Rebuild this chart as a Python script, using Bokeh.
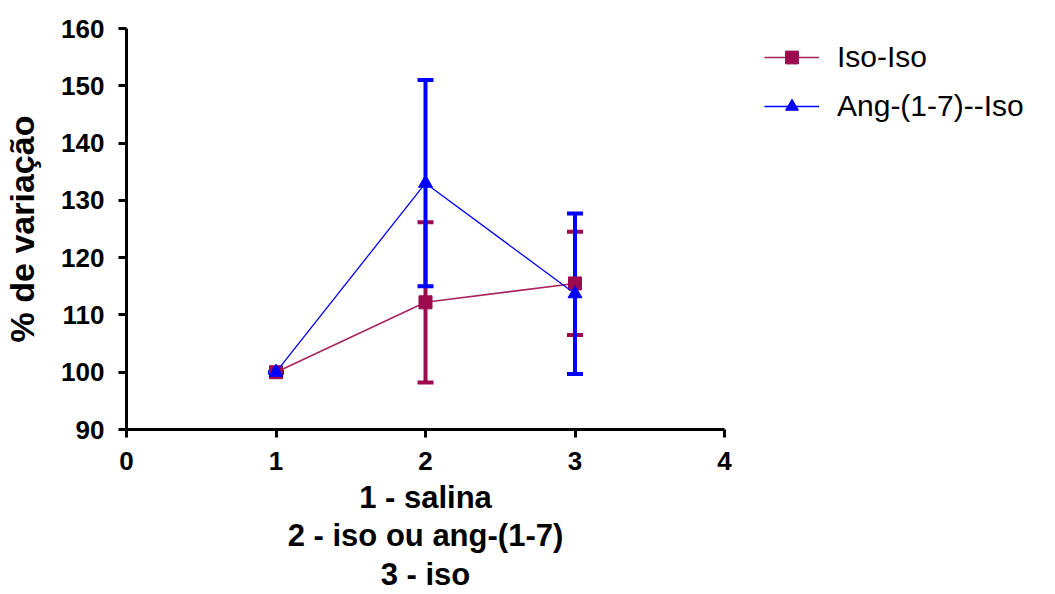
from bokeh.plotting import figure
from bokeh.layouts import row
from bokeh.models import ColumnDataSource, Whisker, TeeHead, Legend, LegendItem, Range1d, FixedTicker
from bokeh.embed import file_html
from bokeh.resources import INLINE

x = [1, 2, 3]
iso_mean = [100.0, 112.2, 115.5]
iso_err = [0.0, 14.0, 9.0]
ang_mean = [100.0, 133.0, 113.7]
ang_err = [0.0, 18.0, 14.0]
x_ticks = [0, 1, 2, 3, 4]
y_ticks = [90, 100, 110, 120, 130, 140, 150, 160]
labels = ["Iso-Iso", "Ang-(1-7)--Iso"]

C_ISO = "#9E0A4E"
C_ISO_LINE = "#A8255C"
C_ANG = "#0000FF"
FONT = "Liberation Sans"

p = figure(width=734, height=594, output_backend="svg", toolbar_location=None,
           x_range=Range1d(0, 4), y_range=Range1d(90, 160),
           min_border_left=123, min_border_top=28, min_border_right=10, min_border_bottom=165)
p.outline_line_color = None
p.grid.visible = False

iso_src = ColumnDataSource(dict(x=x, y=iso_mean,
                                lo=[m - e for m, e in zip(iso_mean, iso_err)],
                                hi=[m + e for m, e in zip(iso_mean, iso_err)]))
ang_src = ColumnDataSource(dict(x=x, y=ang_mean,
                                lo=[m - e for m, e in zip(ang_mean, ang_err)],
                                hi=[m + e for m, e in zip(ang_mean, ang_err)]))

for src, col in ((iso_src, C_ISO), (ang_src, C_ANG)):
    w = Whisker(base="x", lower="lo", upper="hi", source=src, line_color=col, line_width=4,
                upper_head=TeeHead(size=16, line_color=col, line_width=4),
                lower_head=TeeHead(size=16, line_color=col, line_width=4))
    p.add_layout(w)

ISO_LINE = dict(line_color=C_ISO_LINE, line_width=1.6)
ISO_MARK = dict(marker="square", size=13, fill_color=C_ISO, line_color=C_ISO)
ANG_LINE = dict(line_color=C_ANG, line_width=1.3)
ANG_MARK = dict(marker="triangle", size=14, fill_color=C_ANG, line_color=C_ANG)

p.line("x", "y", source=iso_src, **ISO_LINE)
p.scatter("x", "y", source=iso_src, **ISO_MARK)
p.line("x", "y", source=ang_src, **ANG_LINE)
p.scatter("x", "y", source=ang_src, **ANG_MARK)

for ax in (p.xaxis[0], p.yaxis[0]):
    ax.axis_line_width = 3
    ax.axis_line_color = "black"
    ax.major_tick_line_width = 3
    ax.major_tick_out = 8
    ax.major_tick_in = 0
    ax.minor_tick_line_color = None
    ax.major_label_text_font = FONT
    ax.major_label_text_font_style = "bold"
    ax.major_label_text_font_size = "26px"
    ax.major_label_text_color = "black"
    ax.axis_label_text_font = FONT
    ax.axis_label_text_font_style = "bold"
    ax.axis_label_text_color = "black"

p.xaxis.ticker = FixedTicker(ticks=x_ticks)
p.yaxis.ticker = FixedTicker(ticks=y_ticks)
p.xaxis.axis_label = "1 - salina\n2 - iso ou ang-(1-7)\n3 - iso"
p.xaxis.axis_label_text_font_size = "31px"
p.xaxis.axis_label_text_line_height = 1.1
p.xaxis.axis_label_standoff = 7
p.yaxis.axis_label = "% de variação"
p.yaxis.axis_label_text_font_size = "34px"
p.yaxis.axis_label_standoff = 17
p.xaxis.major_label_standoff = 14
p.yaxis.major_label_standoff = 14

# legend panel (its frame is aligned with the main plot's frame by the row layout)
q = figure(width=321, height=594, output_backend="svg", toolbar_location=None,
           x_axis_type=None, y_axis_type=None, min_border=0,
           x_range=Range1d(0, 1), y_range=Range1d(0, 1))
q.outline_line_color = None
q.grid.visible = False
# same sources, outside this panel's ranges: only their legend glyphs show
r1 = q.line("x", "y", source=iso_src, **ISO_LINE)
r2 = q.scatter("x", "y", source=iso_src, **ISO_MARK)
r3 = q.line("x", "y", source=ang_src, **ANG_LINE)
r4 = q.scatter("x", "y", source=ang_src, **ANG_MARK)
legend = Legend(items=[LegendItem(label=labels[0], renderers=[r1, r2]),
                       LegendItem(label=labels[1], renderers=[r3, r4])],
                location=(30, 306), margin=0, padding=0, spacing=15,
                glyph_width=55, glyph_height=32, label_height=32, label_standoff=18,
                label_text_font=FONT, label_text_font_size="30px", label_text_color="black",
                border_line_color=None, background_fill_alpha=0)
q.add_layout(legend)

layout = row(p, q, spacing=0)
open("out.html", "w").write(file_html(layout, INLINE))
